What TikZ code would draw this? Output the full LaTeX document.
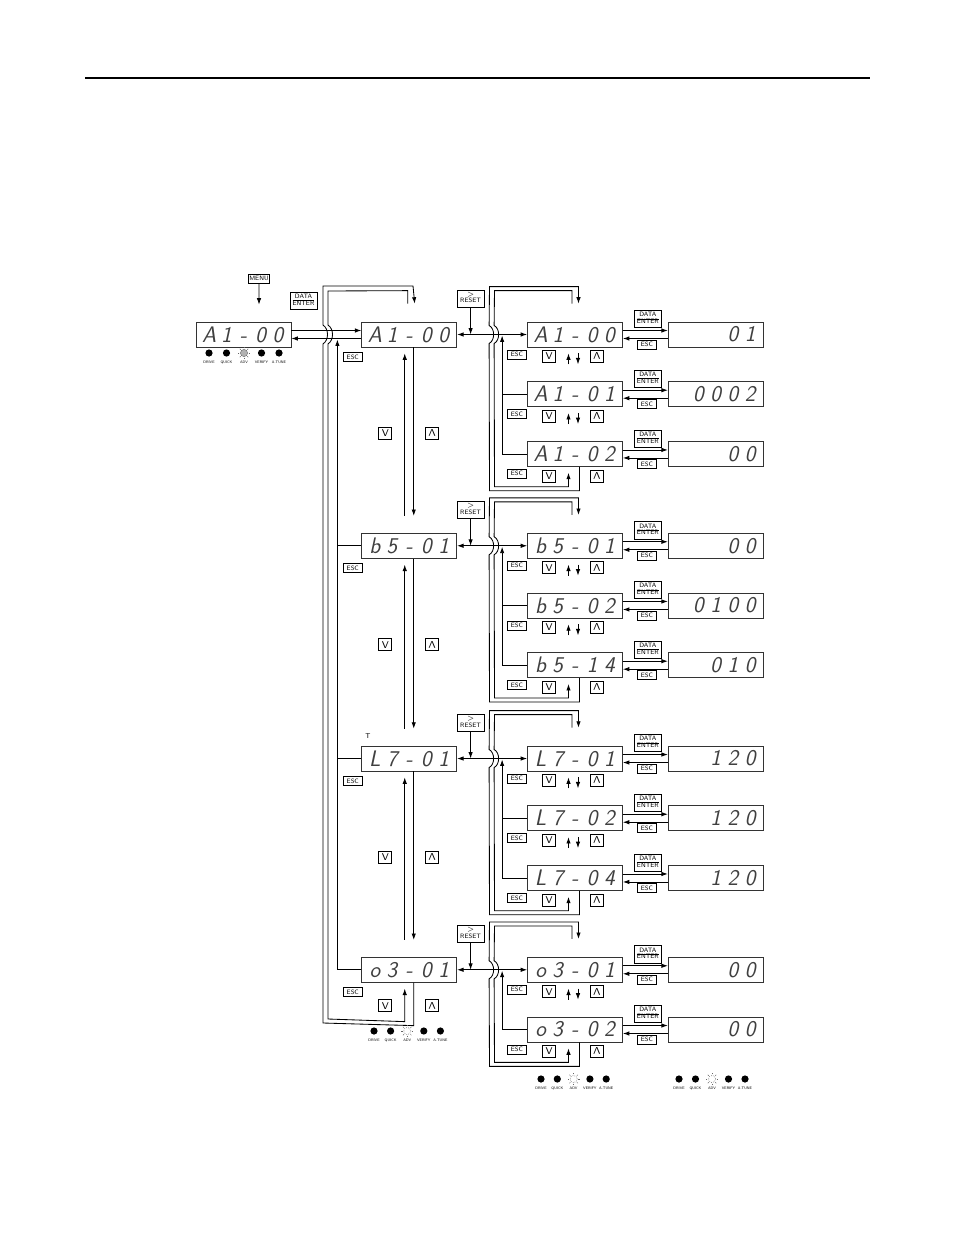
\documentclass[tikz,border=0pt]{standalone}
\usepackage{fontspec}
\usepackage{tikz}
\usetikzlibrary{arrows.meta, positioning, calc}

\newcommand{\segfont}{\fontsize{16}{16}\selectfont\sffamily\itshape\color{black!75}}
\newcommand{\segs}[5]{\makebox[0.43cm]{#1}\makebox[0.43cm]{#2}\makebox[0.43cm]{#3}\makebox[0.43cm]{#4}\makebox[0.43cm]{#5}}
\newcommand{\keyup}{\rotatebox[origin=c]{180}{V}}
\newcommand{\dataenter}{\begin{tabular}{@{}c@{}}DATA\\\hline ENTER\end{tabular}}
\newcommand{\resetkey}{\begin{tabular}{@{}c@{}}$>$\\RESET\end{tabular}}

\begin{document}
\begin{tikzpicture}[
    x=0.025cm, y=-0.025cm,
    disp/.style={rectangle, draw=black!80, line width=0.5pt, minimum width=2.375cm, minimum height=0.625cm, inner sep=0pt, font=\segfont},
    btn/.style={rectangle, draw, fill=white, line width=0.4pt, inner sep=0.5pt, minimum width=0.475cm, minimum height=0.225cm, font=\fontsize{4.5}{4.5}\selectfont\sffamily},
    twokey/.style={btn, minimum width=0.675cm, minimum height=0.43cm},
    navbtn/.style={btn, minimum width=0.325cm, minimum height=0.3cm, font=\fontsize{7}{7}\selectfont\sffamily},
    line/.style={draw=black, line width=0.6pt, -{Latex[length=1.6mm, width=1.1mm]}},
    twoway/.style={draw=black, line width=0.6pt, {Latex[length=1.6mm, width=1.1mm]}-{Latex[length=1.6mm, width=1.1mm]}},
    wire/.style={draw=black, line width=0.6pt},
    led/.style={circle, fill=black, minimum size=0.18cm, inner sep=0pt},
    ledtxt/.style={font=\fontsize{2.6}{2.6}\selectfont\sffamily, inner sep=0pt}
]
\useasboundingbox (0,0) rectangle (954,1235);

% page rule
\draw[line width=0.9pt] (85,78) -- (870,78);

% Displays
\node[disp] (main) at (243.5,334.5) {\segs{A}{1}{-}{0}{0}};
\node[disp, right=1.75cm of main] (mA) {\segs{A}{1}{-}{0}{0}};
\node[disp, below=4.6375cm of mA] (mB) {\segs{b}{5}{-}{0}{1}};
\node[disp, below=4.675cm of mB] (mL) {\segs{L}{7}{-}{0}{1}};
\node[disp, below=4.6375cm of mL] (mO) {\segs{o}{3}{-}{0}{1}};

\node[disp, right=1.75cm of mA] (a00) {\segs{A}{1}{-}{0}{0}};
\node[disp, below=0.85cm of a00] (a01) {\segs{A}{1}{-}{0}{1}};
\node[disp, below=0.85cm of a01] (a02) {\segs{A}{1}{-}{0}{2}};
\node[disp, right=1.75cm of mB] (b01) {\segs{b}{5}{-}{0}{1}};
\node[disp, below=0.85cm of b01] (b02) {\segs{b}{5}{-}{0}{2}};
\node[disp, below=0.85cm of b02] (b14) {\segs{b}{5}{-}{1}{4}};
\node[disp, right=1.75cm of mL] (l01) {\segs{L}{7}{-}{0}{1}};
\node[disp, below=0.85cm of l01] (l02) {\segs{L}{7}{-}{0}{2}};
\node[disp, below=0.85cm of l02] (l04) {\segs{L}{7}{-}{0}{4}};
\node[disp, right=1.75cm of mO] (o01) {\segs{o}{3}{-}{0}{1}};
\node[disp, below=0.85cm of o01] (o02) {\segs{o}{3}{-}{0}{2}};

\node[disp, right=1.125cm of a00] (va00) {\segs{}{}{}{0}{1}};
\node[disp, right=1.125cm of a01] (va01) {\segs{}{0}{0}{0}{2}};
\node[disp, right=1.125cm of a02] (va02) {\segs{}{}{}{0}{0}};
\node[disp, right=1.125cm of b01] (vb01) {\segs{}{}{}{0}{0}};
\node[disp, right=1.125cm of b02] (vb02) {\segs{}{0}{1}{0}{0}};
\node[disp, right=1.125cm of b14] (vb14) {\segs{}{}{0}{1}{0}};
\node[disp, right=1.125cm of l01] (vl01) {\segs{}{}{1}{2}{0}};
\node[disp, right=1.125cm of l02] (vl02) {\segs{}{}{1}{2}{0}};
\node[disp, right=1.125cm of l04] (vl04) {\segs{}{}{1}{2}{0}};
\node[disp, right=1.125cm of o01] (vo01) {\segs{}{}{}{0}{0}};
\node[disp, right=1.125cm of o02] (vo02) {\segs{}{}{}{0}{0}};

% Keys
\node[btn, minimum width=0.5cm] (menu) at (259,278.5) {MENU};
\node[twokey] (enterM) at (303.5,300.5) {\dataenter};
\node[font=\fontsize{5}{5}\selectfont\sffamily, inner sep=0pt] (tmark) at (368,736) {T};

% Main display <-> first group
\draw[line] (menu.south) -- ($(main.north)+(15.5,-17)$);
\draw[line] ([yshift=0.1cm]main.east) -- ([yshift=0.1cm]mA.west);
\draw[line] ([yshift=-0.1cm]mA.west) -- ([yshift=-0.1cm]main.east);

% Middle column
\foreach \m in {mA, mB, mL, mO}
  \node[btn] (esc\m) at ($(\m.south)+(-56.5,9.5)$) {ESC};
\foreach \u/\l in {mA/mB, mB/mL, mL/mO}{
  \draw[line] ($(\u.south)+(4.5,0)$) -- ($(\l.north)+(4.5,-17)$);
  \draw[line] ($(\l.north)+(-4.5,-17)$) -- ($(\u.south)+(-4.5,6)$);
  \node[navbtn] (dn\u) at ($(\u.south)+(-24,86)$) {V};
  \node[navbtn] (up\u) at ($(\u.south)+(23,86)$) {\keyup};
}
\node[navbtn] (dnmO) at ($(mO.south)+(-24,23)$) {V};
\node[navbtn] (upmO) at ($(mO.south)+(23,23)$) {\keyup};

\draw[line] ($(mO.south)+(4.5,0)$) -- ($(mO.south)+(4.5,43)$) -- (323,1023) -- (323,344)
  .. controls (329,340) and (329,329) .. (323,325) -- (323,286) -- (413,286) -- ($(mA.north)+(5.5,-18)$);
\draw[line] ($(mA.north)+(-1.5,-18)$) -- ($(mA.north)+(-1.5,-31)$) -- (328,291) -- (328,325)
  .. controls (334,329) and (334,340) .. (328,344) -- (328,1019) -- ($(mO.south)+(-4.5,39)$) -- ($(mO.south)+(-4.5,6)$);

\draw[line] (mO.west) -| ($(mA.west)+(-24,5)$);
\draw[wire] (mB.west) -- ++(-24,0);
\draw[wire] (mL.west) -- ++(-24,0);

% Middle -> right groups
\foreach \m/\r in {mA/a00, mB/b01, mL/l01, mO/o01}{
  \node[twokey] (rst\m) at ($(\m.east)+(13.5,-36)$) {\resetkey};
  \draw[twoway] (\m.east) -- (\r.west);
  \draw[line] (rst\m.south) -- (rst\m.south |- \m.east);
}

% Right groups: loops and escape return
\foreach \tp/\bt in {a00/a02, b01/b14, l01/l04, o01/o02}{
  \draw[line] ($(\bt.south)+(4.5,0)$) -- ($(\bt.south)+(4.5,24)$) -- ($(\bt.south)+(-85.5,24)$) -- ($(\tp.west)+(-38,9)$)
    .. controls ($(\tp.west)+(-32,6)$) and ($(\tp.west)+(-32,-6)$) .. ($(\tp.west)+(-38,-9)$)
    -- ($(\tp.north)+(-85.5,-35)$) -- ($(\tp.north)+(3.5,-35)$) -- ($(\tp.north)+(3.5,-18)$);
  \draw[line] ($(\tp.north)+(-3,-18)$) -- ($(\tp.north)+(-3,-31)$) -- ($(\tp.north)+(-80.5,-31)$) -- ($(\tp.west)+(-33,-9)$)
    .. controls ($(\tp.west)+(-27,-6)$) and ($(\tp.west)+(-27,6)$) .. ($(\tp.west)+(-33,9)$)
    -- ($(\bt.south)+(-80.5,20)$) -- ($(\bt.south)+(-6.5,20)$) -- ($(\bt.south)+(-6.5,6)$);
  \draw[line] (\bt.west) -| ($(\tp.west)+(-25,1)$);
}
\draw[wire] (a01.west) -- ++(-25,0);
\draw[wire] (b02.west) -- ++(-25,0);
\draw[wire] (l02.west) -- ++(-25,0);

% Right column keys and value displays
\foreach \dd in {a00, a01, a02, b01, b02, b14, l01, l02, l04, o01, o02}{
  \node[btn] (esc\dd) at ($(\dd.south)+(-58,7)$) {ESC};
  \node[navbtn] (dn\dd) at ($(\dd.south)+(-26,9)$) {V};
  \node[navbtn] (up\dd) at ($(\dd.south)+(22,9)$) {\keyup};
  \node[twokey] (de\dd) at ($(\dd.east)+(25,-15.5)$) {\dataenter};
  \node[btn] (vesc\dd) at ($(\dd.east)+(24,10)$) {ESC};
  \draw[line] ([yshift=0.1cm]\dd.east) -- ([yshift=0.1cm]v\dd.west);
  \draw[line] ([yshift=-0.1cm]v\dd.west) -- ([yshift=-0.1cm]\dd.east);
}
\foreach \dd in {a00, a01, b01, b02, l01, l02, o01}{
  \draw[line] ($(\dd.south)+(-6.5,17)$) -- ($(\dd.south)+(-6.5,6)$);
  \draw[line] ($(\dd.south)+(3,6)$) -- ($(\dd.south)+(3,17)$);
}

% Status LEDs
\foreach \lx/\ly/\sp/\adv in {209/353/17.5/0, 374/1031/16.6/1, 541/1079/16.3/1, 679/1079/16.5/1}{
  \foreach \i/\lbl in {0/DRIVE, 1/QUICK, 2/ADV, 3/VERIFY, 4/A.TUNE}{
    \ifnum\i=2
      \ifnum\adv=0
        \node[led, fill=black!30, draw=black!60, line width=0.3pt] (led\lx\i) at (\lx+\i*\sp,\ly) {};
      \else
        \node[led, fill=none, draw=black!70, densely dotted, line width=0.4pt] (led\lx\i) at (\lx+\i*\sp,\ly) {};
      \fi
      \foreach \a in {0,45,...,315}
        \draw[black!60, line width=0.3pt] ($(led\lx\i.center)+(\a:4.6)$) -- ($(led\lx\i.center)+(\a:6)$);
    \else
      \node[led] (led\lx\i) at (\lx+\i*\sp,\ly) {};
    \fi
    \node[ledtxt] (lbl\lx\i) at (\lx+\i*\sp,\ly+9) {\lbl};
  }
}

\end{tikzpicture}
\end{document}
